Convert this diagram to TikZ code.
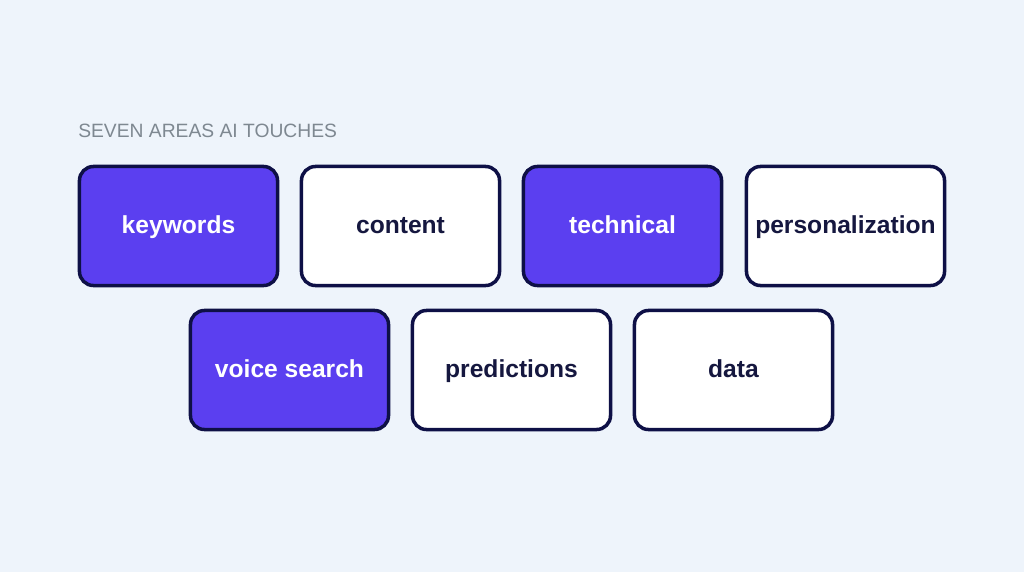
\documentclass[tikz,border=0pt]{standalone}
\usepackage{fontspec}
\setmainfont{Liberation Sans}
\usetikzlibrary{positioning}

\definecolor{pagebg}{HTML}{EEF4FB}
\definecolor{areafill}{HTML}{5B3FF0}
\definecolor{areaedge}{HTML}{0E1046}
\definecolor{areatext}{HTML}{15173F}
\definecolor{titlegray}{HTML}{7E8891}

\tikzset{
  area/.style={draw=areaedge, line width=2.5pt, rounded corners=0.35cm,
    minimum width=4.95cm, minimum height=2.975cm, inner sep=0pt,
    text height=12.6pt, text depth=1.6pt,
    font=\fontsize{17.5}{20}\selectfont\bfseries},
  hotarea/.style={area, fill=areafill, text=white},
  coldarea/.style={area, fill=white, text=areatext},
}

\begin{document}
\begin{tikzpicture}[x=0.025cm, y=-0.025cm]
    % Background
    \fill[pagebg] (0,0) rectangle (1024,572);
    \useasboundingbox (0,0) rectangle (1024,572);

    % Title
    \node[anchor=west, inner sep=0pt, text=titlegray,
          font=\fontsize{13.7}{16}\selectfont] (title) at (78,131) {SEVEN AREAS AI TOUCHES};

    % First row
    \node[hotarea]  (keywords)  at (178.5,226) {keywords};
    \node[coldarea] (content)   at (400.5,226) {content};
    \node[hotarea]  (technical) at (622.5,226) {technical};
    \node[coldarea] (personal)  at (845.5,226) {personalization};

    % Second row
    \node[hotarea]  (voice)     at (289.5,370) {voice search};
    \node[coldarea] (predict)   at (511.5,370) {predictions};
    \node[coldarea] (data)      at (733.5,370) {data};
\end{tikzpicture}
\end{document}
